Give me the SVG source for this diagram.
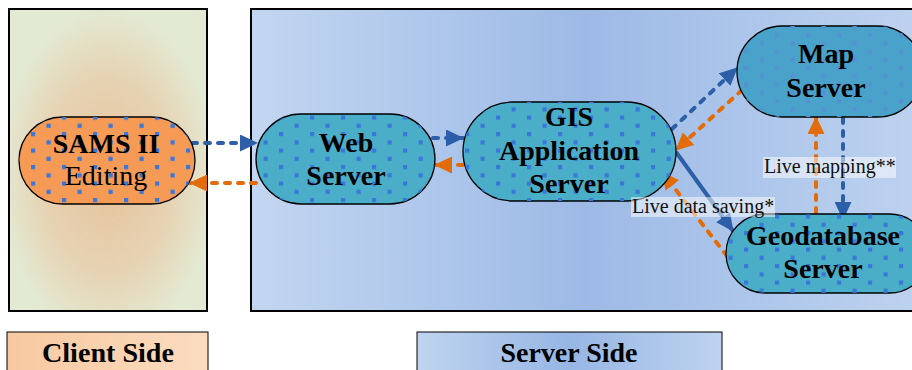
<svg xmlns="http://www.w3.org/2000/svg" width="912" height="370" viewBox="0 0 912 370">
<defs>
<style>
.bold{font-family:"Liberation Serif","Times New Roman",serif;font-weight:bold;font-size:28px;fill:#000;text-anchor:middle}
.reg{font-family:"Liberation Serif","Times New Roman",serif;font-size:28px;fill:#000;text-anchor:middle}
.lab{font-family:"Liberation Serif","Times New Roman",serif;font-size:20px;fill:#111}
.pill{stroke:#000;stroke-width:1.3}
.blue{fill:none;stroke:#2c5fa8;stroke-width:4}
.orange{fill:none;stroke:#e36c0a;stroke-width:4}
.dash{stroke-dasharray:5 8;stroke-linecap:round}
.lbox{fill:#ffffff;fill-opacity:0.5}
</style>
<radialGradient id="gClient" cx="0.5" cy="0.55" r="0.55">
<stop offset="0" stop-color="#e7c29a"/>
<stop offset="0.6" stop-color="#e6d3b4"/>
<stop offset="1" stop-color="#e3ead3"/>
</radialGradient>
<linearGradient id="gServer" x1="0" y1="0" x2="1" y2="0">
<stop offset="0" stop-color="#c3d6f1"/>
<stop offset="0.5" stop-color="#9dbae6"/>
<stop offset="1" stop-color="#bed2ef"/>
</linearGradient>
<linearGradient id="gClientLab" x1="0" y1="0" x2="1" y2="0">
<stop offset="0" stop-color="#f8c9a0"/>
<stop offset="1" stop-color="#fbdcbf"/>
</linearGradient>
<linearGradient id="gServerLab" x1="0" y1="0" x2="1" y2="0">
<stop offset="0" stop-color="#c0d4f0"/>
<stop offset="0.5" stop-color="#96b6e4"/>
<stop offset="1" stop-color="#bfd3f0"/>
</linearGradient>
<pattern id="dots" patternUnits="userSpaceOnUse" width="31" height="16.5">
<rect x="0" y="0" width="4.2" height="4.2" fill="#3a78d8"/>
<rect x="15.5" y="8.25" width="4.2" height="4.2" fill="#3a78d8"/>
</pattern>
<pattern id="dotsFaint" patternUnits="userSpaceOnUse" width="31" height="16.5">
<rect x="0" y="0" width="4.2" height="4.2" fill="#5590d0"/>
<rect x="15.5" y="8.25" width="4.2" height="4.2" fill="#5590d0"/>
</pattern>
<marker id="ab" markerWidth="18" markerHeight="17" refX="17" refY="8.5" orient="auto" markerUnits="userSpaceOnUse">
<path d="M0,0 L18,8.5 L0,17 z" fill="#2c5fa8"/>
</marker>
<marker id="ao" markerWidth="18" markerHeight="17" refX="17" refY="8.5" orient="auto" markerUnits="userSpaceOnUse">
<path d="M0,0 L18,8.5 L0,17 z" fill="#e36c0a"/>
</marker>
</defs>

<rect x="0" y="0" width="912" height="370" fill="#ffffff"/>

<g id="client-panel">
<rect x="9" y="9" width="198" height="302" fill="url(#gClient)" stroke="#000" stroke-width="2"/>
</g>
<g id="server-panel">
<rect x="251" y="9" width="670" height="302" fill="url(#gServer)" stroke="#000" stroke-width="2"/>
</g>

<g id="connectors">
<line class="blue dash" x1="192" y1="143" x2="257" y2="143" marker-end="url(#ab)"/>
<line class="orange dash" x1="256" y1="183" x2="190" y2="183" marker-end="url(#ao)"/>
<line class="blue dash" x1="433" y1="138" x2="463" y2="138" marker-end="url(#ab)"/>
<line class="orange dash" x1="463" y1="165" x2="435" y2="165" marker-end="url(#ao)"/>
<line class="blue dash" x1="672" y1="129" x2="737" y2="68" marker-end="url(#ab)"/>
<line class="orange dash" x1="742" y1="90" x2="676" y2="150" marker-end="url(#ao)"/>
<line class="blue" x1="676" y1="152" x2="733" y2="231" marker-end="url(#ab)"/>
<line class="orange dash" x1="727" y1="256" x2="662" y2="172" marker-end="url(#ao)"/>
<line class="blue dash" x1="843" y1="118" x2="843" y2="219" marker-end="url(#ab)"/>
<line class="orange dash" x1="816" y1="213" x2="816" y2="117" marker-end="url(#ao)"/>
</g>

<g id="sams">
<rect class="pill" x="19" y="117" width="176" height="87" rx="43.5" fill="#f59b56"/>
<rect x="19" y="117" width="176" height="87" rx="43.5" fill="url(#dots)"/>
<text class="bold" x="106" y="153">SAMS II</text>
<text class="reg" x="106" y="185">Editing</text>
</g>

<g id="web">
<rect class="pill" x="256" y="114" width="179" height="90" rx="45" fill="#4aaec8"/>
<rect x="256" y="114" width="179" height="90" rx="45" fill="url(#dots)"/>
<text class="bold" x="346" y="152">Web</text>
<text class="bold" x="346" y="185">Server</text>
</g>

<g id="gis">
<rect class="pill" x="463" y="102" width="213" height="99" rx="49.5" fill="#4aaec8"/>
<rect x="463" y="102" width="213" height="99" rx="49.5" fill="url(#dots)"/>
<text class="bold" x="569" y="126">GIS</text>
<text class="bold" x="569" y="160">Application</text>
<text class="bold" x="569" y="193">Server</text>
</g>

<g id="map">
<rect class="pill" x="737" y="26" width="186" height="91" rx="45.5" fill="#49a2c9"/>
<rect x="737" y="26" width="186" height="91" rx="45.5" fill="url(#dotsFaint)"/>
<text class="bold" x="826" y="63">Map</text>
<text class="bold" x="826" y="97">Server</text>
</g>

<g id="geodatabase">
<rect class="pill" x="726" y="214" width="203" height="79" rx="39.5" fill="#4aaec8"/>
<rect x="726" y="214" width="203" height="79" rx="39.5" fill="url(#dots)"/>
<text class="bold" x="823" y="245">Geodatabase</text>
<text class="bold" x="823" y="278">Server</text>
</g>

<g id="label-live-mapping">
<rect class="lbox" x="763" y="157" width="133" height="21"/>
<text class="lab" x="764" y="173">Live mapping**</text>
</g>
<g id="label-live-data-saving">
<rect class="lbox" x="631" y="197" width="144" height="20"/>
<text class="lab" x="632" y="213">Live data saving*</text>
</g>

<g id="client-side-label">
<rect x="7" y="332" width="201" height="42" fill="url(#gClientLab)" stroke="#000" stroke-width="1"/>
<text class="bold" x="108" y="362" font-size="32" textLength="132" lengthAdjust="spacingAndGlyphs">Client Side</text>
</g>
<g id="server-side-label">
<rect x="417" y="332" width="305" height="42" fill="url(#gServerLab)" stroke="#000" stroke-width="1"/>
<text class="bold" x="569" y="362" font-size="32" textLength="137" lengthAdjust="spacingAndGlyphs">Server Side</text>
</g>
</svg>
